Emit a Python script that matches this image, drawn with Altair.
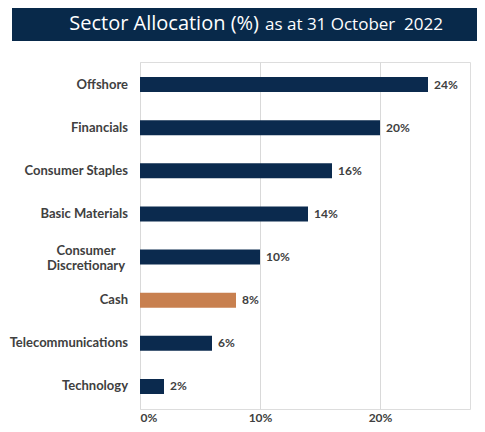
import altair as alt
import pandas as pd

categories = ["Offshore", "Financials", "Consumer Staples", "Basic Materials",
              "Consumer Discretionary", "Cash", "Telecommunications", "Technology"]
label_lines = ["Offshore", "Financials", "Consumer Staples", "Basic Materials",
               "Consumer\nDiscretionary", "Cash", "Telecommunications", "Technology"]
values = [24, 20, 16, 14, 10, 8, 6, 2]
bar_colors = ["#0b2a4e", "#0b2a4e", "#0b2a4e", "#0b2a4e", "#0b2a4e", "#c8804f", "#0b2a4e", "#0b2a4e"]
tick_values = [0, 10, 20]
title_main = "Sector Allocation (%)"
title_sub = "as at 31 October\u00a0\u00a02022"

df = pd.DataFrame({
    "sector": categories,
    "label": label_lines,
    "value": values,
    "color": bar_colors,
    "text": [f"{v}%" for v in values],
    "multi": ["\n" in l for l in label_lines],
})

W, H = 330, 347
LABEL_COLOR = "#404040"
FONT = "Lato"

y_enc = alt.Y("sector:N", sort=categories, axis=None,
              scale=alt.Scale(paddingInner=0.652, paddingOuter=0.348))

base = alt.Chart(df)

bars = base.mark_bar().encode(
    x=alt.X("value:Q",
            scale=alt.Scale(domain=[0, 27.5], nice=False),
            axis=alt.Axis(values=tick_values, labelExpr="datum.value + '%'",
                          title=None, grid=True, gridColor="#d9d9d9", gridWidth=1,
                          domain=False, ticks=False, labelFont=FONT, labelFontSize=12,
                          labelFontWeight="bold", labelColor=LABEL_COLOR, labelPadding=3)),
    y=y_enc,
    color=alt.Color("color:N", scale=None),
)

value_text = base.mark_text(align="left", baseline="middle", dx=6, font=FONT,
                            fontSize=12, fontWeight="bold", color=LABEL_COLOR).encode(
    x="value:Q", y=y_enc, text="text:N")

ylab_single = base.transform_filter("!datum.multi").mark_text(
    align="right", baseline="middle", font=FONT, fontSize=13, fontWeight="bold",
    color=LABEL_COLOR).encode(x=alt.value(-12), y=y_enc, text="label:N")

ylab_multi = base.transform_filter("datum.multi").mark_text(
    align="center", baseline="middle", font=FONT, fontSize=13, fontWeight="bold",
    color=LABEL_COLOR, lineBreak="\n", lineHeight=15, dy=-6).encode(
    x=alt.value(-54), y=y_enc, text="label:N")

one = pd.DataFrame({"a": [0]})
banner = alt.Chart(one).mark_rect(color="#08294a").encode(
    x=alt.value(-128), x2=alt.value(337), y=alt.value(-60), y2=alt.value(-21))
t1 = alt.Chart(one).mark_text(align="right", baseline="alphabetic", font="Open Sans",
                              fontSize=20, color="white", text=title_main).encode(
    x=alt.value(119), y=alt.value(-32))
t2 = alt.Chart(one).mark_text(align="left", baseline="alphabetic", font="Open Sans",
                              fontSize=17, color="white", text=title_sub).encode(
    x=alt.value(125), y=alt.value(-32))

chart = alt.layer(bars, value_text, ylab_single, ylab_multi, banner, t1, t2).properties(
    width=W, height=H,
    padding={"left": 132, "top": 54, "right": 7, "bottom": 15},
    autosize=alt.AutoSizeParams(type="none"),
).configure_view(stroke="transparent", strokeWidth=0).configure_axis(domain=False).configure(background="white")

chart.save("out.html", embed_options={"renderer": "svg", "actions": False})
